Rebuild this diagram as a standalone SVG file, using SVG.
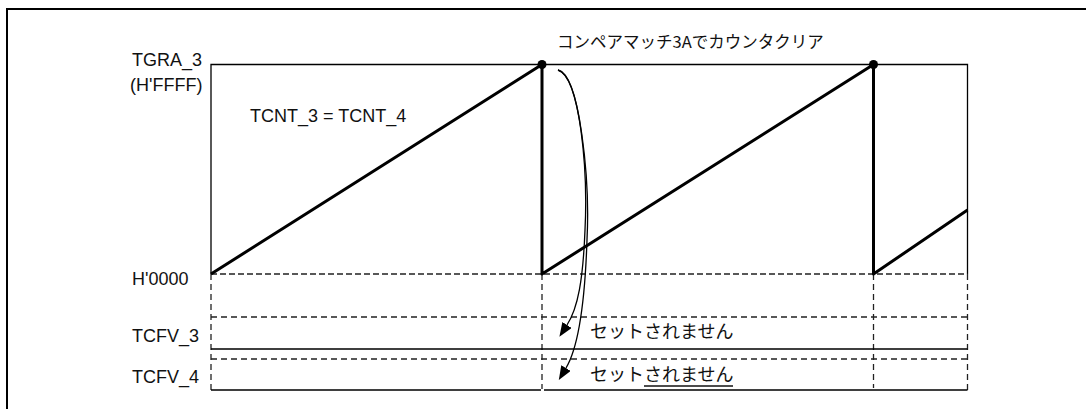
<svg xmlns="http://www.w3.org/2000/svg" width="1086" height="409" viewBox="0 0 1086 409">
<style>
.lbl{font-family:"Liberation Sans",Arial,sans-serif;font-size:18px;fill:#111}
.jp{font-family:"Noto Sans CJK JP","Noto Sans",sans-serif;fill:#111}
.thin{stroke:#000;stroke-width:1.3;fill:none}
.dash{stroke:#222;stroke-width:1.3;fill:none;stroke-dasharray:6 4}
.saw{stroke:#000;stroke-width:3;fill:none;stroke-linejoin:round}
.arc{stroke:#000;stroke-width:1.3;fill:none;marker-end:url(#ah)}
</style>
<defs>
<marker id="ah" viewBox="0 0 14 11" refX="0" refY="5.5" markerWidth="14" markerHeight="11" markerUnits="userSpaceOnUse" orient="auto">
<path d="M0,0 L14,5.5 L0,11 z" fill="#000"/>
</marker>
</defs>
<rect width="1086" height="409" fill="#fff"/>
<g id="frame">
<rect x="7" y="9" width="1100" height="420" fill="none" stroke="#000" stroke-width="2"/>
</g>
<g id="timing-box">
<path class="thin" d="M211,274 V64.5 H967.5 V274"/>
<path class="dash" style="stroke-dasharray:6 3" d="M211,274 H967.5"/>
<path class="dash" d="M211,274 V390 M542,274 V389 M873.5,274 V388 M967.5,274 V390"/>
<path class="dash" d="M211,317 H967.5 M211,359 H967.5"/>
<path class="thin" d="M211,349 H967.5 M211,390 H541 M544,390 H967.5"/>
</g>
<g id="tcnt-waveform">
<path class="saw" d="M211,274 L542,64.5 V274 L873.5,64.5 V274 L967.5,210"/>
<circle cx="542" cy="64.5" r="4.5" fill="#000"/>
<circle cx="873.5" cy="64.5" r="4.5" fill="#000"/>
</g>
<g id="connectors">
<path class="arc" d="M558,70 C580,76 588,170 585,230 C583,280 578,308 567,325"/>
<path class="arc" d="M558,70 C580,76 590,180 587,240 C585,300 578,348 566,368"/>
</g>
<g id="labels">
<text class="lbl" x="132" y="66">TGRA_3</text>
<text class="lbl" x="130" y="91">(H'FFFF)</text>
<text class="lbl" x="250" y="122">TCNT_3 = TCNT_4</text>
<text class="lbl" x="132" y="285">H'0000</text>
<text class="lbl" x="132" y="342">TCFV_3</text>
<text class="lbl" x="132" y="383">TCFV_4</text>
</g>
<g id="notes">
<text class="jp" x="557" y="48" font-size="16.5">コンペアマッチ3Aでカウンタクリア</text>
<text class="jp" x="590" y="338" font-size="18">セットされません</text>
<text class="jp" x="590" y="381" font-size="18">セットされません</text>
<line x1="644" y1="386" x2="733" y2="386" stroke="#111" stroke-width="1.5"/>
</g>
</svg>
